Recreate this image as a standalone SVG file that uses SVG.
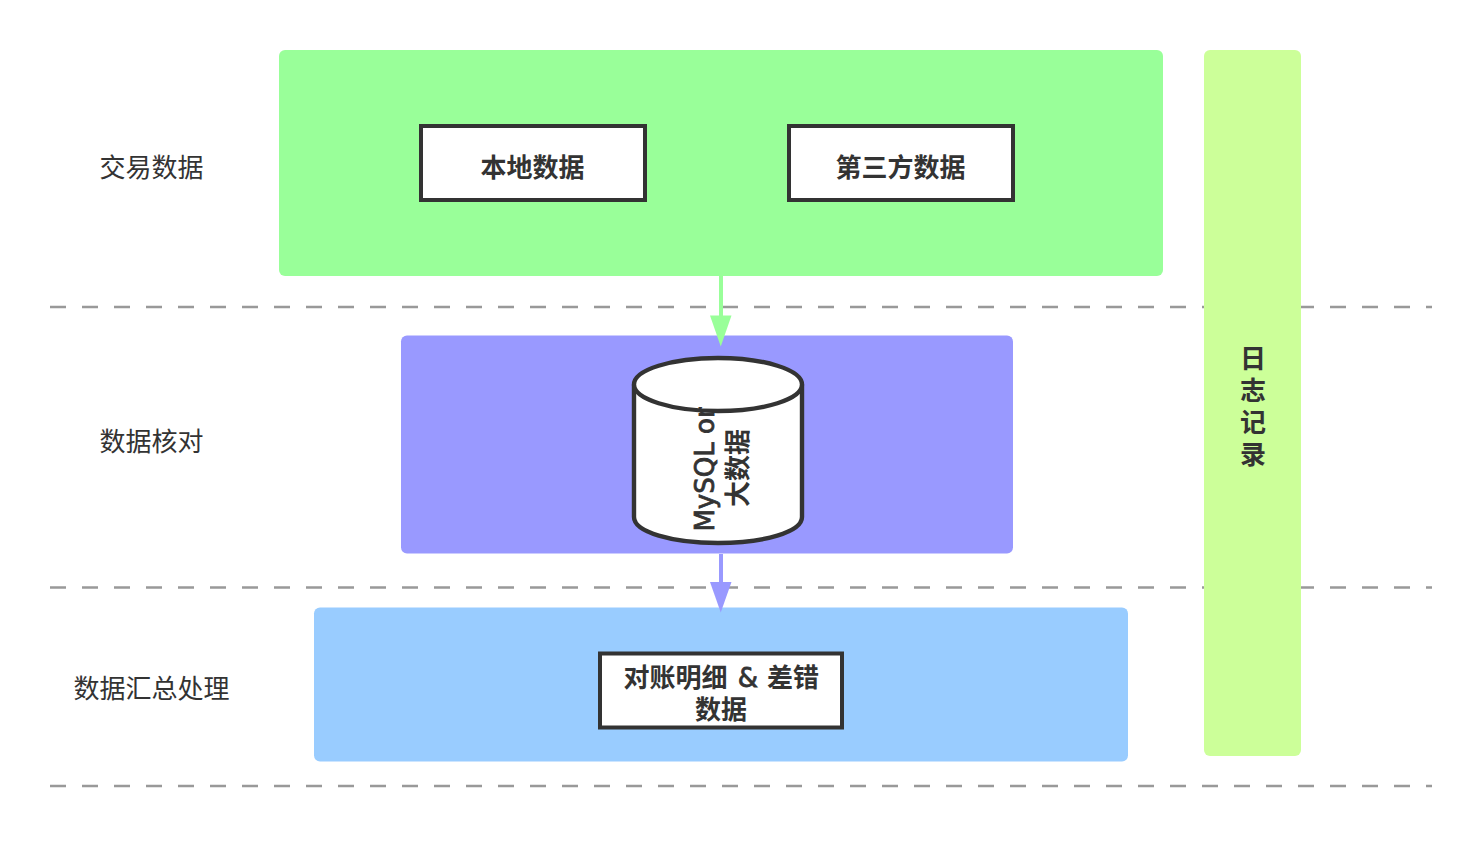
<svg xmlns="http://www.w3.org/2000/svg" width="1482" height="857" viewBox="0 0 1482 857">
<style>
text{font-family:"Noto Sans CJK SC","Noto Sans",sans-serif;font-size:26px;fill:#333;text-anchor:middle}
.b{font-weight:700}
.lat{font-family:"DejaVu Sans",sans-serif;font-weight:400;stroke:#333;stroke-width:.8}
.box{fill:#fff;stroke:#333;stroke-width:4}
.cyl{fill:#fff;stroke:#333;stroke-width:4.4}
.sep{stroke:#999;stroke-width:2.4;stroke-dasharray:16 16;fill:none}
</style>
<rect width="1482" height="857" fill="#fff"/>
<g id="separators">
<path class="sep" d="M50 307H1432"/>
<path class="sep" d="M50 587.5H1432"/>
<path class="sep" d="M50 786H1432"/>
</g>
<g id="labels">
<text x="151.500" y="177">交易数据</text>
<text x="151.500" y="451">数据核对</text>
<text x="151.500" y="698">数据汇总处理</text>
</g>
<g id="log"><rect x="1204" y="50" width="97" height="706" rx="6" fill="#ccff99"/>
<text class="b" x="1253" y="368">日</text><text class="b" x="1253" y="400">志</text><text class="b" x="1253" y="432">记</text><text class="b" x="1253" y="464">录</text></g>
<g id="trade"><rect x="279" y="50" width="884" height="226" rx="6" fill="#99ff99"/></g>
<g id="check"><rect x="401" y="335.500" width="612" height="218" rx="6" fill="#9999ff"/></g>
<g id="summary"><rect x="314" y="607.500" width="814" height="154" rx="6" fill="#99ccff"/></g>
<g id="connectors">
<path d="M721 276V318" stroke="#99ff99" stroke-width="4" fill="none"/>
<path d="M710 315.500H731.500L720.750 346.500Z" fill="#99ff99"/>
<path d="M721 554V584" stroke="#9999ff" stroke-width="4" fill="none"/>
<path d="M710 582H731.500L720.750 612.500Z" fill="#9999ff"/>
</g>
<g id="local"><rect class="box" x="421" y="126" width="224" height="74"/><text class="b" x="532.500" y="177">本地数据</text></g>
<g id="third"><rect class="box" x="789" y="126" width="224" height="74"/><text class="b" x="900.500" y="177">第三方数据</text></g>
<g id="db">
<path class="cyl" d="M634 384.500V517C634 532 672 543 718 543S802 532 802 517V384.500"/>
<ellipse class="cyl" cx="718" cy="384.500" rx="84" ry="26.500"/>
<text class="lat" transform="translate(714 469.500) rotate(-90)">MySQL or</text>
<text class="b" transform="translate(747 468) rotate(-90)">大数据</text>
</g>
<g id="detail"><rect class="box" x="600" y="653.500" width="242" height="74"/><text class="b" x="675.500" y="687">对账明细</text><text class="lat" x="748" y="687">&amp;</text><text class="b" x="793" y="687">差错</text><text class="b" x="721" y="719">数据</text></g>
</svg>
